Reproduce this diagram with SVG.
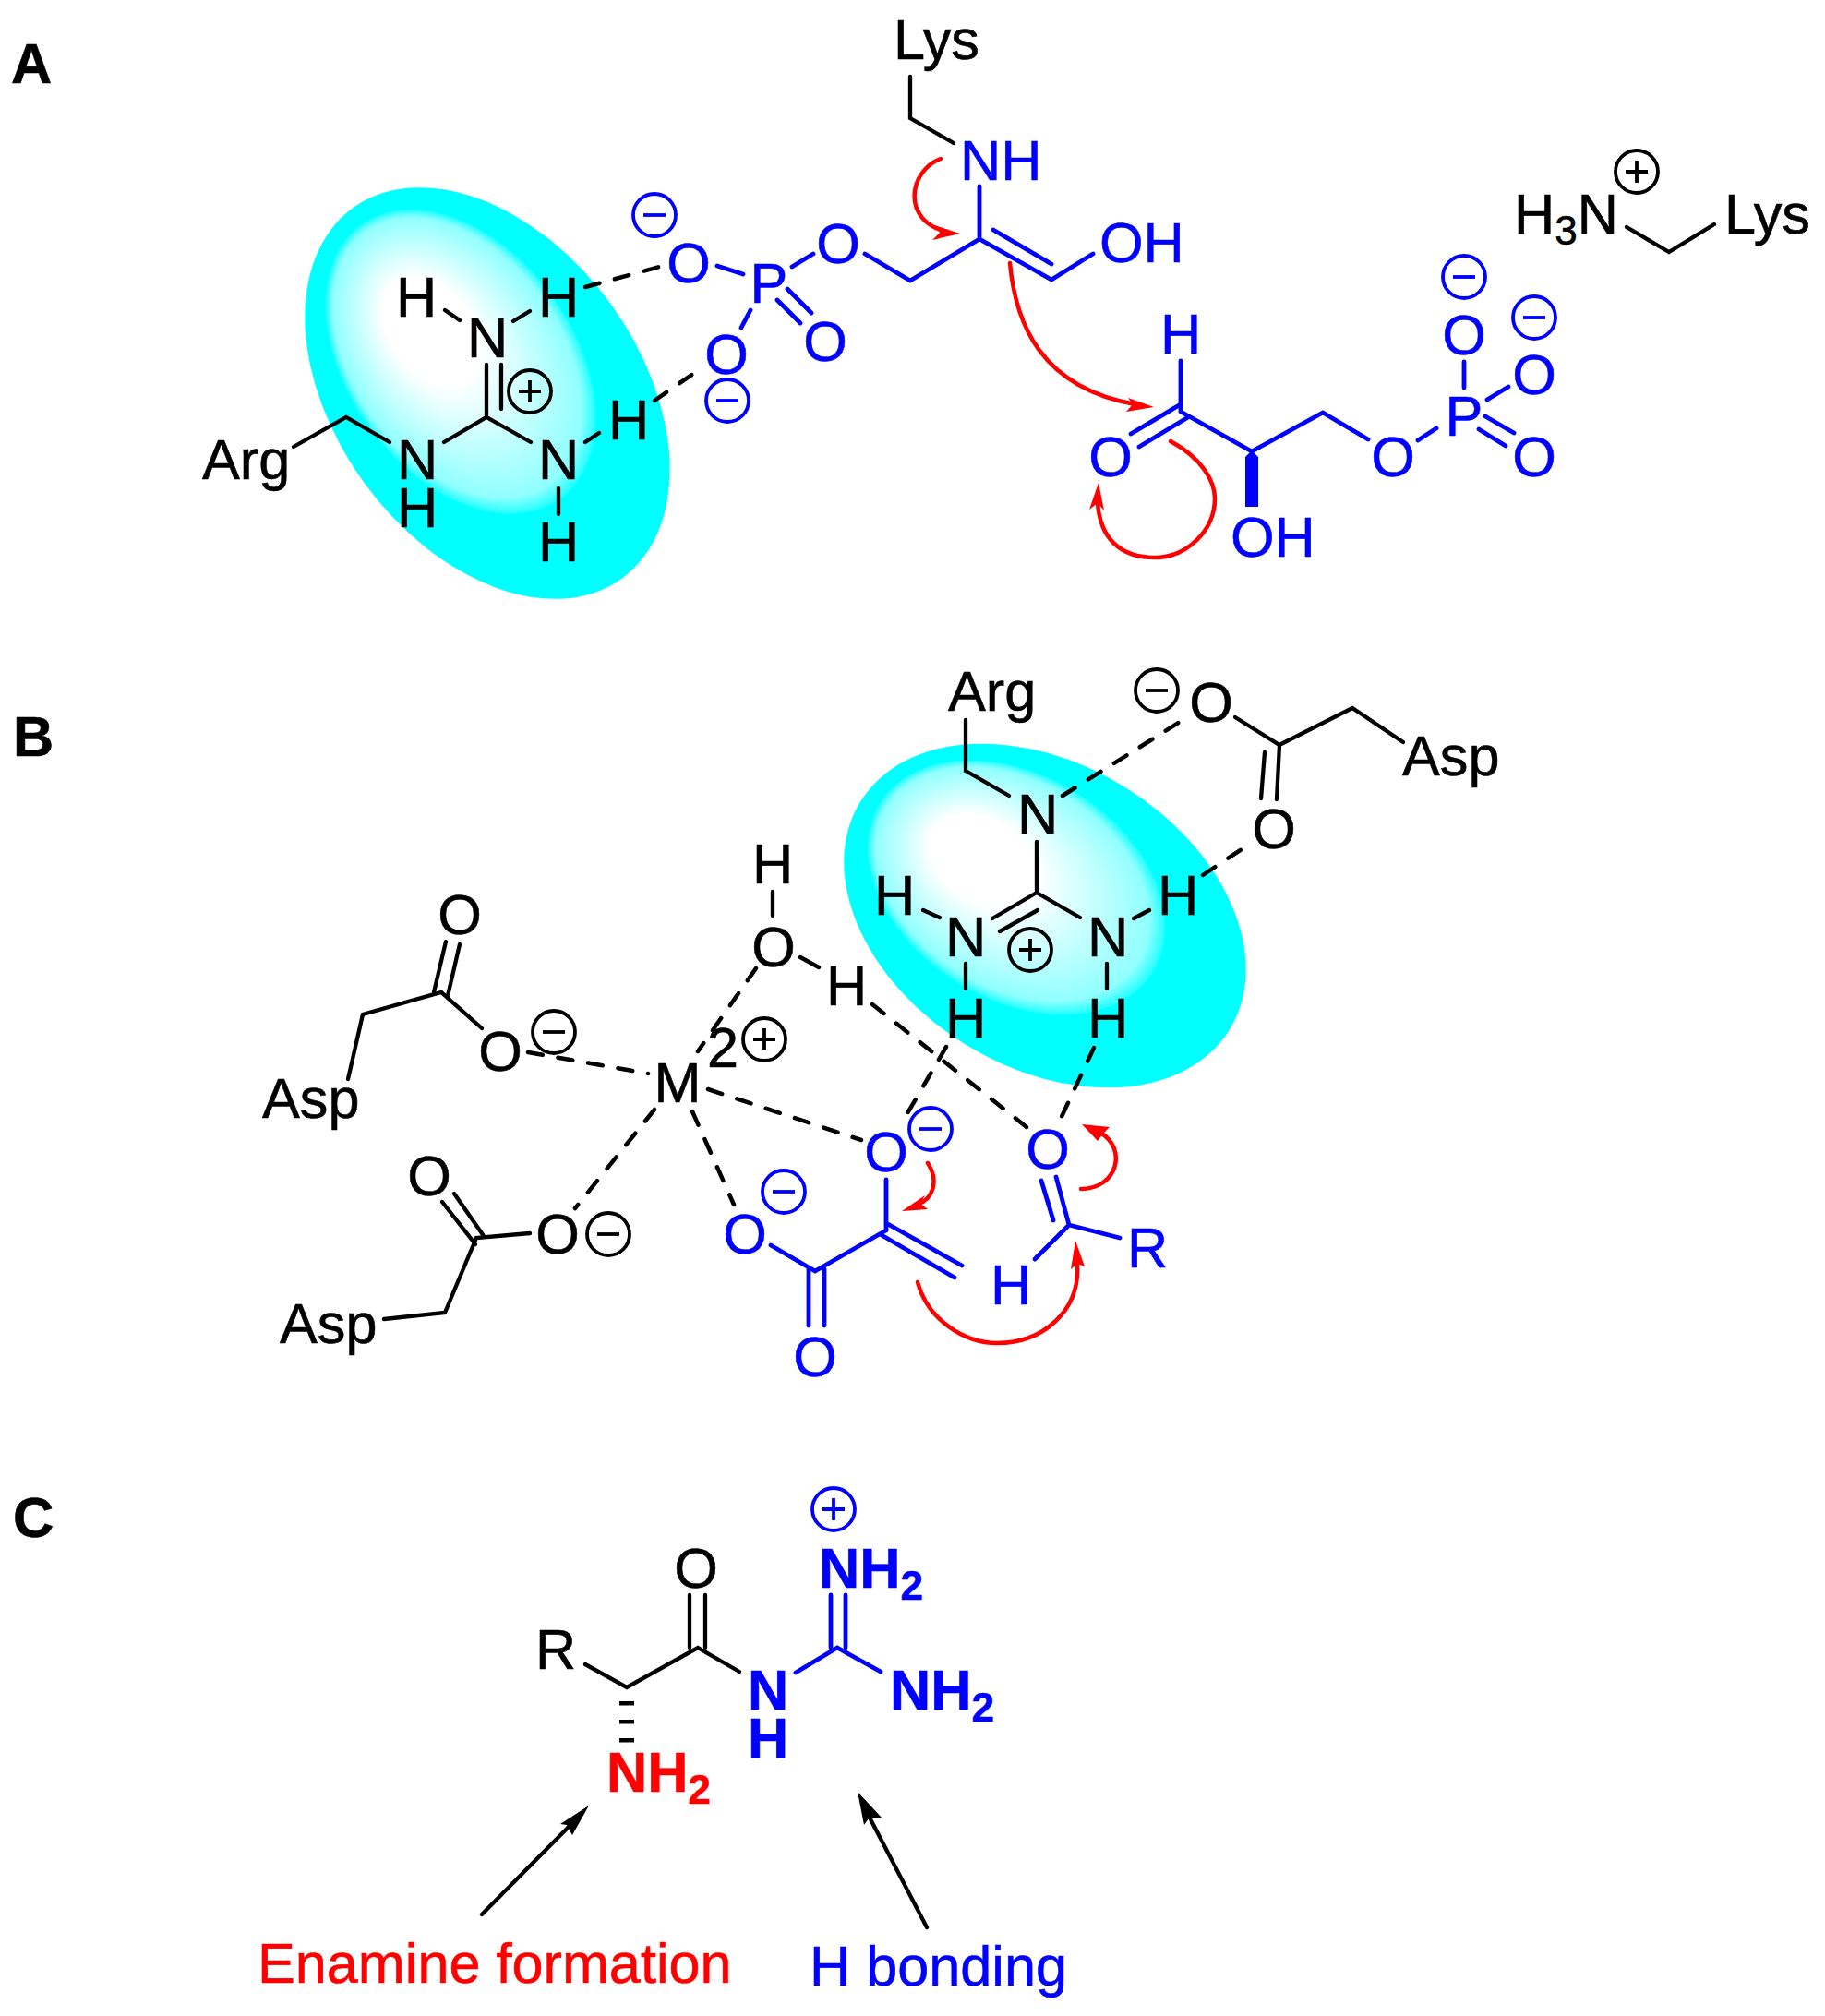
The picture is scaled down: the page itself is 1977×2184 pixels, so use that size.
<svg xmlns="http://www.w3.org/2000/svg" width="1977" height="2184" viewBox="0 0 1977 2184">
<style>
text{font-family:"Liberation Sans",Arial,sans-serif;font-size:61.2px;stroke-width:.6}
.c{text-anchor:middle}
.tk{fill:#000;stroke:#000}.tb{fill:#00f;stroke:#00f}.tr{fill:#f00;stroke:#f00}
.bd{font-weight:bold}
.sub{font-size:44px}
.k,.b,.d,.r{fill:none;stroke-linejoin:miter;stroke-linecap:round}
.k{stroke:#000;stroke-width:4.3}
.b{stroke:#00f;stroke-width:4.8}
.d{stroke:#000;stroke-width:4.5;stroke-dasharray:16 17}
.r{stroke:#f00;stroke-width:4.5}
.hr{fill:#f00}
.hk{fill:#000}
.chg{fill:none;stroke-width:3.8}
.ck{stroke:#000}.cb{stroke:#00f}
</style>
<defs>
<radialGradient id="gA" cx=".41" cy=".51" r=".37" fx=".267" fy=".54">
<stop offset=".36" stop-color="#fff"/><stop offset=".92" stop-color="#90ffff"/><stop offset="1" stop-color="#20ffff"/><stop offset="1" stop-color="#0ff"/>
</radialGradient>
<radialGradient id="gB" cx=".41" cy=".47" r=".37" fx=".257" fy=".44">
<stop offset=".36" stop-color="#fff"/><stop offset=".92" stop-color="#90ffff"/><stop offset="1" stop-color="#20ffff"/><stop offset="1" stop-color="#0ff"/>
</radialGradient>
<g id="plus" class="chg"><ellipse rx="23" ry="23"/><path d="M-12,0H12M0,-12V12"/></g>
<g id="minus" class="chg"><ellipse rx="23" ry="23"/><path d="M-12,0H12"/></g>
</defs>
<rect width="1977" height="2184" fill="#fff"/>
<g id="labels">
<text class="bd tk" x="12" y="90">A</text>
<text class="bd tk" x="14" y="819">B</text>
<text class="bd tk" x="14" y="1665">C</text>
</g>
<g id="shade-A"><ellipse cx="528" cy="426" rx="248" ry="165" transform="rotate(54 528 426)" fill="url(#gA)"/></g>
<g id="shade-B"><ellipse cx="1132" cy="992" rx="235" ry="164" transform="rotate(31.7 1132 992)" fill="url(#gB)"/></g>

<g id="connectors">
<path class="d" d="M634,311L718,288M709,434L761,398"/>
<path class="d" d="M1151,862L1286,777M1303,948L1354,914M945,1088L1112,1221M1025,1134L976,1218M1185,1135L1148,1214"/>
<path class="d" d="M819,1049L756,1139M572,1140L702,1163M767,1180L933,1235M709,1202L623,1309M750,1204L795,1305"/>
<path class="r" d="M1019,172C984,185 976,240 1026,251"/>
<polygon class="hr" points="1040,253 1012,244 1018,252 1010,260"/>
<path class="r" d="M1094,285C1100,350 1127,420 1230,438"/>
<polygon class="hr" points="1250,441 1222,431 1227,438 1220,446"/>
<path class="r" d="M1268,478C1300,495 1316,520 1316,540C1316,575 1285,604 1251,604C1215,604 1192,585 1189,545"/>
<polygon class="hr" points="1190,523 1180,552 1189,545 1196,553"/>
<path class="r" d="M1005,1260C1018,1280 1010,1300 993,1305"/>
<polygon class="hr" points="977,1312 1002,1295 997,1304 1005,1310"/>
<path class="r" d="M1171,1288C1210,1288 1222,1245 1192,1227"/>
<polygon class="hr" points="1172,1218 1202,1221 1195,1228 1189,1236"/>
<path class="r" d="M994,1389C1005,1430 1045,1455 1080,1455C1130,1455 1170,1420 1167,1370"/>
<polygon class="hr" points="1165,1344 1160,1375 1167,1369 1175,1372"/>
<path class="k" d="M522,2074L625,1970"/>
<polygon class="hk" points="638,1956 607,1976 614,1977 620,1988"/>
<path class="k" d="M1004,2088L940,1965"/>
<polygon class="hk" points="929,1941 936,1977 941,1970 955,1969"/>
</g>

<g id="guanidinium-A">
<path class="k" d="M318,484L375,452L422,479M481,479L527,452L575,479M527,395V452M543,395V443M482,336L498,347M574,337L556,348M649,469L634,479M605,529V557"/>
<text class="c tk" x="451" y="343">H</text><text class="c tk" x="605" y="343">H</text>
<text class="c tk" x="528" y="387">N</text><text class="c tk" x="452" y="519">N</text>
<text class="c tk" x="452" y="571">H</text><text class="c tk" x="605" y="519">N</text>
<text class="c tk" x="681" y="476">H</text><text class="c tk" x="605" y="608">H</text>
<text class="tk" x="219" y="519">Arg</text>
<use href="#plus" class="ck" x="574" y="424"/>
</g>

<g id="enamine-A">
<path class="b" d="M777,288L805,297M858,289L881,275M937,275L986,304L1061,259L1139,303L1184,275M853,313L879,339M842,325L867,350M813,336L803,355M1061,202V259M1076,249L1139,286"/>
<path class="k" d="M986,83V128L1033,155"/>
<text class="tk" x="968" y="64">Lys</text>
<text class="tb" x="1040" y="195">NH</text>
<text class="tb" x="1191" y="284">OH</text>
<text class="c tb" x="746" y="306">O</text><text class="c tb" x="833" y="328">P</text>
<text class="c tb" x="908" y="285">O</text><text class="c tb" x="894" y="391">O</text>
<text class="c tb" x="787" y="405">O</text>
<use href="#minus" class="cb" x="709" y="233"/><use href="#minus" class="cb" x="788" y="434"/>
</g>

<g id="aldehyde-A">
<path class="b" d="M1279,391V445M1279,438L1225,470M1287,452L1234,484M1279,446L1356,489L1433,447L1482,476M1536,477L1556,464M1586,392V420M1611,433L1634,419M1609,451L1640,469M1602,465L1631,483"/>
<polygon points="1356,488 1363,495 1363,549 1349,549 1349,495" fill="#00f"/>
<text class="c tb" x="1279" y="383">H</text><text class="c tb" x="1203" y="516">O</text>
<text class="tb" x="1333" y="603">OH</text><text class="c tb" x="1509" y="516">O</text>
<text class="c tb" x="1586" y="472">P</text><text class="c tb" x="1586" y="384">O</text>
<text class="c tb" x="1662" y="427">O</text><text class="c tb" x="1662" y="516">O</text>
<use href="#minus" class="cb" x="1586" y="300"/><use href="#minus" class="cb" x="1662" y="344"/>
</g>

<g id="lysine-A">
<path class="k" d="M1762,246L1808,273L1857,243"/>
<text class="tk" x="1640" y="253">H<tspan class="sub" dy="12">3</tspan><tspan dy="-12">N</tspan></text>
<text class="tk" x="1868" y="253">Lys</text>
<use href="#plus" class="ck" x="1773" y="186"/>
</g>

<g id="guanidinium-B">
<path class="k" d="M1046,780V835L1093,862M1123,912V967L1170,994M1123,967L1075,995M1124,986L1083,1009M1000,986L1018,994M1228,995L1245,986M1046,1044V1071M1199,1044V1071"/>
<text class="tk" x="1027" y="770">Arg</text>
<text class="c tk" x="1124" y="903">N</text><text class="c tk" x="969" y="991">H</text>
<text class="c tk" x="1046" y="1036">N</text><text class="c tk" x="1200" y="1036">N</text>
<text class="c tk" x="1276" y="991">H</text><text class="c tk" x="1046" y="1124">H</text>
<text class="c tk" x="1200" y="1124">H</text>
<use href="#plus" class="ck" x="1116" y="1029"/>
</g>

<g id="aspartate-top-right">
<path class="k" d="M1338,777L1386,807L1465,767L1520,804M1386,807L1383,866M1370,815L1366,865"/>
<text class="c tk" x="1312" y="782">O</text><text class="c tk" x="1380" y="919">O</text>
<text class="tk" x="1519" y="840">Asp</text>
<use href="#minus" class="ck" x="1253" y="748"/>
</g>

<g id="metal">
<text class="c tk" x="734" y="1194">M</text><text class="c tk" x="783" y="1156">2</text>
<use href="#plus" class="ck" x="828" y="1126"/>
</g>

<g id="water">
<path class="k" d="M837,966V992M867,1037L887,1048"/>
<text class="c tk" x="837" y="957">H</text><text class="c tk" x="838" y="1047">O</text>
<text class="c tk" x="917" y="1089">H</text>
</g>

<g id="aspartate-left">
<path class="k" d="M377,1169L393,1099L478,1075L522,1114M483,1020L470,1075M498,1023L485,1079"/>
<text class="c tk" x="498" y="1012">O</text><text class="c tk" x="542" y="1160">O</text>
<text class="tk" x="284" y="1211">Asp</text>
<use href="#minus" class="ck" x="600" y="1118"/>
</g>

<g id="aspartate-bottom">
<path class="k" d="M416,1429L482,1422L516,1341L574,1336M479,1302L515,1348M492,1293L524,1339"/>
<text class="c tk" x="465" y="1295">O</text><text class="c tk" x="604" y="1358">O</text>
<text class="tk" x="303" y="1455">Asp</text>
<use href="#minus" class="ck" x="659" y="1337"/>
</g>

<g id="pyruvate-enolate">
<path class="b" d="M835,1349L883,1377L958,1334M876,1375V1436M893,1375V1436M960,1278V1333M960,1325L1042,1371M955,1338L1034,1384"/>
<text class="c tb" x="807" y="1358">O</text><text class="c tb" x="883" y="1491">O</text>
<text class="c tb" x="960" y="1269">O</text>
<use href="#minus" class="cb" x="849" y="1291"/><use href="#minus" class="cb" x="1008" y="1223"/>
</g>

<g id="aldehyde-B">
<path class="b" d="M1144,1275L1158,1327M1128,1279L1141,1322M1158,1327L1121,1364M1158,1327L1213,1341"/>
<text class="c tb" x="1135" y="1266">O</text><text class="c tb" x="1243" y="1373">R</text>
<text class="c tb" x="1095" y="1413">H</text>
</g>

<g id="molecule-C">
<path class="k" d="M634,1803L679,1828L756,1785L801,1811M747,1728V1785M764,1728V1785"/>
<rect x="671" y="1843" width="16" height="4.5"/><rect x="671" y="1863" width="16" height="4.5"/><rect x="671" y="1883" width="16" height="4.5"/>
<path class="b" d="M862,1812L907,1785L954,1811M900,1728V1785M916,1728V1785"/>
<text class="c tk" x="754" y="1720">O</text><text class="c tk" x="602" y="1808">R</text>
<text class="tb bd" x="887" y="1720">NH<tspan class="sub" dy="13">2</tspan></text>
<text class="tb bd" x="964" y="1852">NH<tspan class="sub" dy="13">2</tspan></text>
<text class="c tb bd" x="832" y="1852">N</text><text class="c tb bd" x="832" y="1904">H</text>
<text class="tr bd" x="657" y="1941">NH<tspan class="sub" dy="13">2</tspan></text>
<use href="#plus" class="cb" x="903" y="1635"/>
</g>

<g id="captions">
<text class="tr" x="279" y="2148">Enamine formation</text>
<text class="tb" x="877" y="2151">H bonding</text>
</g>
</svg>
